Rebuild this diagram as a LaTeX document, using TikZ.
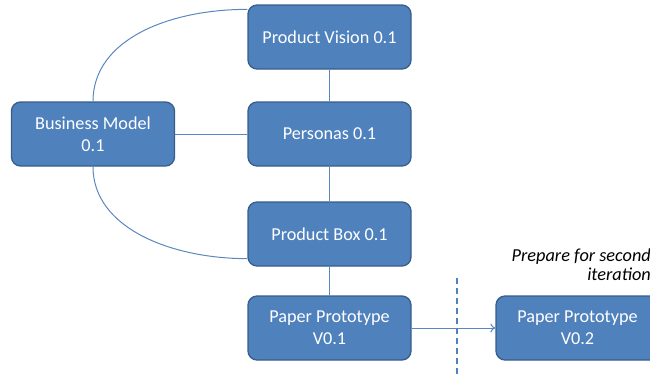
\documentclass[tikz,border=0pt]{standalone}
\usepackage{fontspec}
\setmainfont{Carlito}
\usetikzlibrary{arrows.meta}
\definecolor{boxfill}{HTML}{4F81BD}
\definecolor{boxedge}{HTML}{385D8A}
\definecolor{linkcol}{HTML}{5B87C0}
\begin{document}
\begin{tikzpicture}[x=1pt,y=-1pt,
  stage/.style={draw=boxedge, line width=1.3pt, fill=boxfill, rounded corners=9pt,
    minimum width=163pt, minimum height=64pt, inner sep=0pt, align=center,
    text=white, font=\fontsize{18.2}{22}\selectfont},
  link/.style={draw=linkcol, line width=1pt},
  sep/.style={draw=boxfill, line width=1.3pt, dash pattern=on 6pt off 4pt}]
\useasboundingbox (0,0) rectangle (650,376);
\clip (0,0) rectangle (650,376);

% dashed separator between iterations
\coordinate (sepTop) at (457,278);
\coordinate (sepBot) at (457,376);
\draw[sep] (sepTop) -- (sepBot);

% artefacts
\node[stage] (vision)   at (329.5,37)  {Product Vision 0.1};
\node[stage] (personas) at (329.5,134) {Personas 0.1};
\node[stage] (business) at (93,134)    {Business Model\\0.1};
\node[stage] (box)      at (329.5,234) {Product Box 0.1};
\node[stage] (proto1)   at (329.5,328) {Paper Prototype\\V0.1};
\node[stage] (proto2)   at (577.5,328) {Paper Prototype\\V0.2};

% connectors
\draw[link] (vision.south) -- (personas.north);
\draw[link] (personas.south) -- (box.north);
\draw[link] (box.south) -- (proto1.north);
\draw[link] (business.east) -- (personas.west);
\draw[link] (business.north) .. controls +(0,-62) and +(-78,0) .. ([yshift=-5pt]vision.north west);
\draw[link] (business.south) .. controls +(0,62) and +(-75,0) .. ([yshift=8pt]box.south west);
\draw[link, -{To[length=5pt,width=9pt]}] (proto1.east) -- (proto2.west);

% caption for the next iteration
\node[anchor=east, align=right, inner sep=0pt, font=\fontsize{18.3}{19}\selectfont\itshape]
  (note) at (651,265) {Prepare for second\\iteration};
\end{tikzpicture}
\end{document}
